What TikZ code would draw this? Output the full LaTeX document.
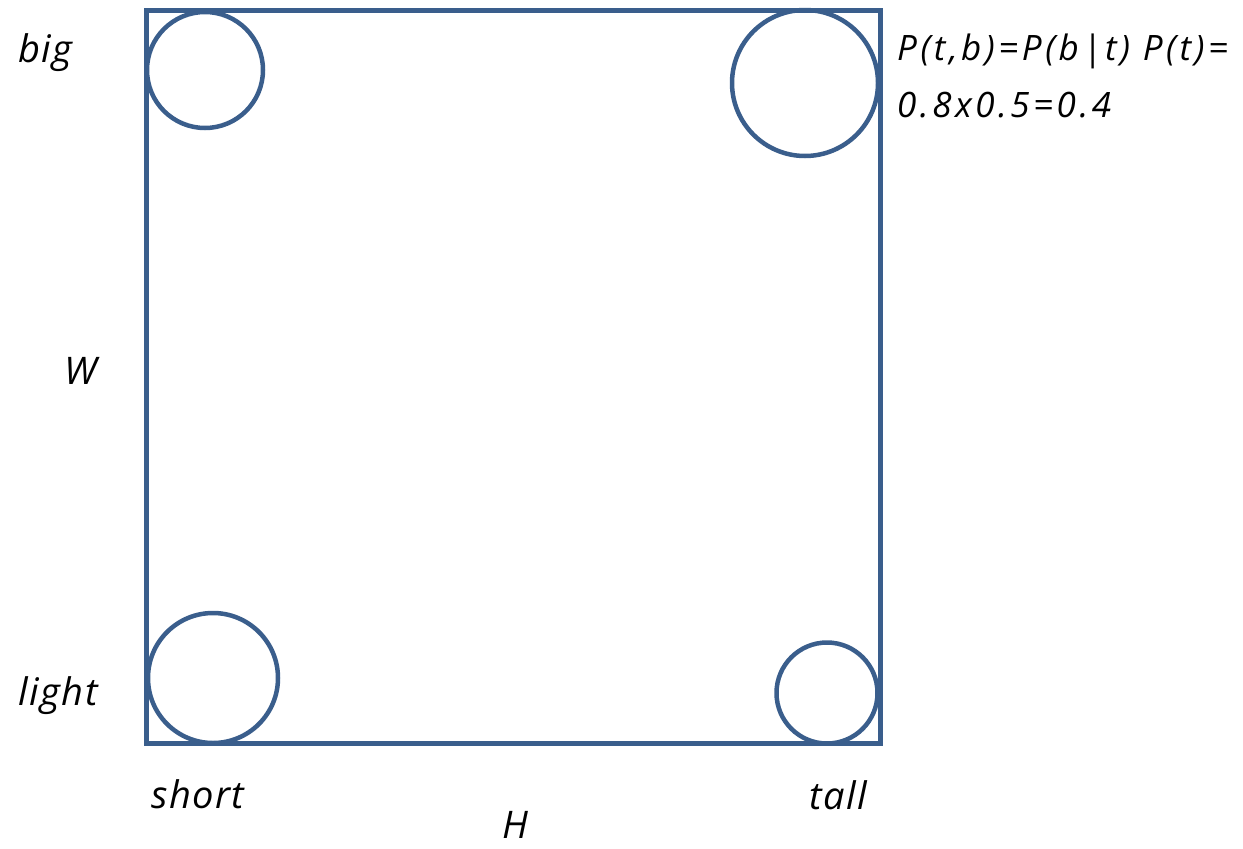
\documentclass[tikz,border=0pt]{standalone}
\usepackage{fontspec}
\setmainfont{Open Sans}
\begin{document}
\begin{tikzpicture}[x=1pt,y=-1pt,
  edge/.style={draw=boxblue,line width=5pt},
  ball/.style={circle,draw=boxblue,line width=4.5pt,inner sep=0pt},
  lab/.style={anchor=base west,inner sep=0pt,font=\fontsize{38}{44}\selectfont\itshape\addfontfeatures{LetterSpace=4}},
  formula/.style={anchor=base west,inner sep=0pt,font=\fontsize{35}{57}\selectfont\itshape\addfontfeatures{LetterSpace=10}}]
\definecolor{boxblue}{HTML}{3A5E8C}
\useasboundingbox (0,0) rectangle (1243,849);
\coordinate (tl) at (146,10);
\coordinate (br) at (880,743);
\draw[edge,line join=miter] (tl) rectangle (br);
\node[ball,minimum size=116] (c1) at (205,70) {};
\node[ball,minimum size=146] (c2) at (805,83) {};
\node[ball,minimum size=130] (c3) at (213,678) {};
\node[ball,minimum size=101] (c4) at (827,693) {};
\node[lab] (big) at (18,62) {big};
\node[lab] (w) at (64,384) {W};
\node[lab] (light) at (18,705) {light};
\node[lab] (short) at (151,808) {short};
\node[lab] (tall) at (809,809) {tall};
\node[lab] (h) at (502,838) {H};
\node[formula] (f1) at (897,60) {P(t,b)=P(b|t) P(t)=};
\node[formula] (f2) at (897,117) {0.8x0.5=0.4};
\end{tikzpicture}
\end{document}
